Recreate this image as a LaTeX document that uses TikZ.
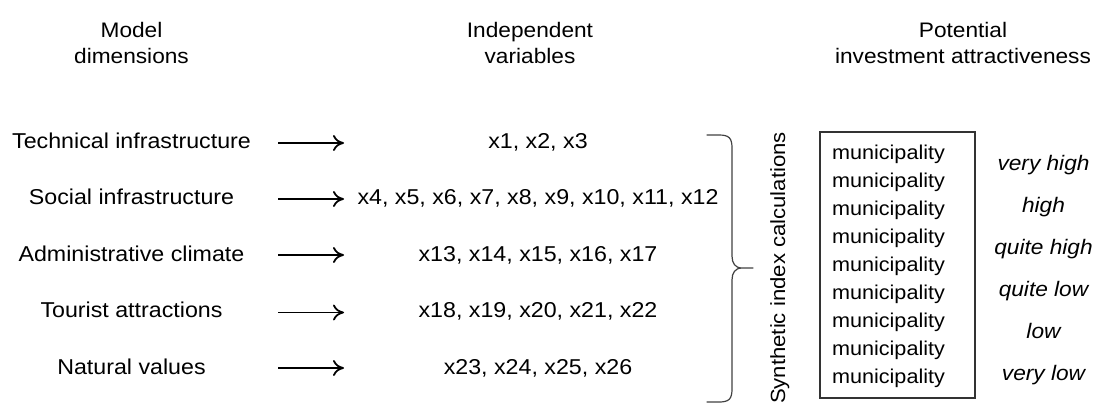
\documentclass[tikz,border=0pt]{standalone}
\usepackage{fontspec}
\setmainfont{Liberation Sans}[FakeStretch=1.08]
\usetikzlibrary{arrows.meta}

\begin{document}
\begin{tikzpicture}[x=1pt,y=-1pt,
  every node/.style={inner sep=0pt,outer sep=0pt,anchor=base},
  head/.style={font=\fontsize{21}{26}\selectfont},
  body/.style={font=\fontsize{21.5}{26}\selectfont},
  muni/.style={font=\fontsize{20}{28}\selectfont},
  rate/.style={font=\fontsize{21}{26}\selectfont\itshape},
  link/.style={line width=1.8pt,-{Computer Modern Rightarrow[length=11pt,width=16pt,line width=1.8pt]}}]
\useasboundingbox (0,0) rectangle (1097,410);

% column headings
\node[head] (h1a) at (131.5,37) {Model};
\node[head] (h1b) at (131.5,63) {dimensions};
\node[head] (h2a) at (530,37) {Independent};
\node[head] (h2b) at (530,63) {variables};
\node[head] (h3a) at (963,37) {Potential};
\node[head] (h3b) at (963,63) {investment attractiveness};

% model dimensions
\node[body] (d1) at (131.5,148) {Technical infrastructure};
\node[body] (d2) at (131.5,204.5) {Social infrastructure};
\node[body] (d3) at (131.5,261) {Administrative climate};
\node[body] (d4) at (131.5,317.5) {Tourist attractions};
\node[body] (d5) at (131.5,374) {Natural values};

% independent variables
\node[body] (v1) at (538,148) {x1, x2, x3};
\node[body] (v2) at (538,204.5) {x4, x5, x6, x7, x8, x9, x10, x11, x12};
\node[body] (v3) at (538,261) {x13, x14, x15, x16, x17};
\node[body] (v4) at (538,317.5) {x18, x19, x20, x21, x22};
\node[body] (v5) at (538,374) {x23, x24, x25, x26};

% arrows between the two columns
\foreach \i/\y in {1/143,2/199,3/255,4/312.5,5/368}{
  \coordinate (s\i) at (278,\y);
  \coordinate (e\i) at (344,\y);
  \draw[link] (s\i) -- (e\i);
}

% brace gathering the variables
\coordinate (bt) at (707,135);
\coordinate (bm) at (753,268);
\coordinate (bb) at (707,402);
\draw[line width=1.2pt,black!75,line cap=round,line join=round]
  (bt) -- ++(12,0) .. controls +(10,0) and +(0,-10) .. ++(13,13)
  -- (732,256) .. controls (732,263) and (735,268) .. (742,268) -- (bm)
  (742,268) .. controls (735,268) and (732,273) .. (732,280)
  -- (732,389) .. controls (732,399) and (729,402) .. (719,402) -- (bb);

% rotated label
\node[font=\fontsize{20.5}{26}\selectfont,rotate=90] (syn) at (785,268) {Synthetic index calculations};

% municipalities
\node[draw=black!80,line width=1.2pt,minimum width=155pt,minimum height=266pt,anchor=north west] (box) at (820,132) {};
\foreach \k in {0,...,8}{
  \node[muni] (m\k) at (888.5,159+28*\k) {municipality};
}

% attractiveness classes
\node[rate] (r1) at (1043.5,170) {very high};
\node[rate] (r2) at (1043.5,212) {high};
\node[rate] (r3) at (1043.5,254) {quite high};
\node[rate] (r4) at (1043.5,296) {quite low};
\node[rate] (r5) at (1043.5,338) {low};
\node[rate] (r6) at (1043.5,380) {very low};
\end{tikzpicture}
\end{document}
